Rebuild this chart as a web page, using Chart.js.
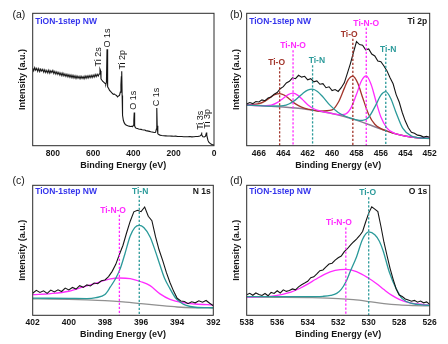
<!DOCTYPE html>
<html>
<head>
<meta charset="utf-8">
<script src="https://cdn.jsdelivr.net/npm/chart.js@4.4.1/dist/chart.umd.min.js"></script>
<style>
  html, body { margin: 0; padding: 0; background: #fff; }
  #sheet { position: relative; width: 448px; height: 344px; overflow: hidden; }
  .panel { position: absolute; width: 224px; height: 172px; }
  canvas { display: block; }
</style>
</head>
<body>
<div id="sheet">
  <div class="panel" style="left:0;top:0"><canvas id="panelA" width="224" height="172"></canvas></div>
  <div class="panel" style="left:224px;top:0"><canvas id="panelB" width="224" height="172"></canvas></div>
  <div class="panel" style="left:0;top:172px"><canvas id="panelC" width="224" height="172"></canvas></div>
  <div class="panel" style="left:224px;top:172px"><canvas id="panelD" width="224" height="172"></canvas></div>
</div>
<script>
// ---------- (a) survey spectrum ----------
const surveyEnergy = [900,895,890,885,880,875,870,865,860,855,850,845,840,835,830,825,820,815,810,805,800,795,790,785,780,775,770,765,760,755,750,745,740,735,730,725,720,715,710,705,700,695,690,685,680,675,670,665,660,655,650,645,640,635,630,625,620,615,610,605,600,595,590,585,580,575,570,566,563,561,557,553,549,545,541,537,534,531,529,527,523,519,514,509,504,499,494,489,484,479,474,469,465,462,460,458,456,454,450,446,440,434,428,422,416,410,404,400,398,396,394,390,386,380,374,368,362,356,350,344,338,332,326,320,314,308,302,296,290,286,284,282,279,274,268,260,250,240,230,220,210,200,190,180,170,160,150,140,130,120,110,100,90,80,70,64,62,60,55,48,42,39,37,35,30,25,15,5,0];
const surveyCounts = [58.6,56.6,58.9,57.0,58.4,56.2,58.2,56.0,57.9,56.3,57.7,55.5,57.4,55.2,56.9,55.0,57.1,54.8,56.6,55.3,56.8,54.5,56.1,54.1,55.8,53.8,55.4,53.3,54.9,52.9,54.9,52.7,54.2,52.3,54.0,52.0,53.6,51.7,53.4,51.3,53.2,51.1,52.8,50.8,52.7,51.0,52.4,50.5,52.5,50.8,52.3,50.5,52.6,50.9,52.8,51.1,53.0,51.4,53.2,51.5,53.4,51.8,53.8,52.1,53.9,52.6,54.2,57.8,56.5,50.5,49.6,48.8,48.2,47.6,47.0,46.4,48.0,72.8,60.0,44.5,43.2,42.0,41.0,40.2,39.4,38.8,39.0,38.4,37.9,36.8,37.6,38.0,40.5,46.0,52.0,56.3,38.0,23.0,19.2,17.4,16.0,15.4,15.0,14.8,14.5,14.6,14.4,15.5,19.0,25.0,15.0,13.6,13.2,13.0,12.6,12.4,12.3,12.0,11.9,11.8,11.4,11.2,11.0,10.8,10.5,10.4,10.2,10.0,10.1,12.5,28.5,15.0,9.0,8.4,8.0,7.7,7.5,7.4,7.3,7.3,7.2,7.1,7.2,7.0,6.9,6.9,6.8,6.8,6.8,6.9,6.7,6.8,6.9,7.0,7.3,8.2,10.0,8.0,6.8,6.6,7.2,9.0,10.0,8.0,4.0,2.5,1.2,0.6,0.5];
const surveyTags = ['Ti 2s', 'O 1s', 'Ti 2p', 'O 1s', 'C 1s', 'Ti 3s', 'Ti 3p'];
const surveyTagEnergy = [572, 530, 454, 400, 286, 69, 31];
const surveyTagBase = [59.8, 74.2, 57.5, 27.1, 29.8, 12.0, 12.8];

// ---------- (b) Ti 2p ----------
const ti2pEnergy = [467,466.75,466.5,466.25,466,465.75,465.5,465.25,465,464.75,464.5,464.25,464,463.75,463.5,463.25,463,462.75,462.5,462.25,462,461.75,461.5,461.25,461,460.75,460.5,460.25,460,459.75,459.5,459.25,459,458.75,458.5,458.25,458,457.75,457.5,457.25,457,456.75,456.5,456.25,456,455.75,455.5,455.25,455,454.75,454.5,454.25,454,453.75,453.5,453.25,453,452.75,452.5,452.25,452];
const ti2pCounts = [31.5,32.6,31.8,33.4,33.0,34.6,34.0,36.1,36.8,38.9,40.2,43.0,44.6,47.4,48.6,51.3,50.6,53.2,51.8,52.4,49.8,50.6,48.2,48.9,46.4,46.9,43.8,44.5,41.6,42.4,41.0,43.8,47.5,54.6,62.0,70.4,78.6,76.4,75.9,72.4,73.1,69.2,67.8,64.0,63.4,60.2,56.5,51.4,46.8,38.6,33.0,25.1,18.6,13.5,10.2,9.4,8.0,7.6,6.5,7.1,6.4];
const ti2pBgEnergy = [467,466,465,464,463,462,461,460,459,458,457,456,455,454,453,452];
const ti2pBg = [30.7,30.3,29.8,29.2,28.5,27.4,26.0,24.3,22.0,19.3,16.0,12.5,9.5,7.3,6.0,5.5];
const ti2pTiOEnergy = [467,466,465.5,465,464.7,464.3,463.9,463.5,463,462.5,462,461,460,459.5,459,458.7,458.3,457.9,457.5,457,456.5,456,455.5,455,454,453,452];
const ti2pTiO = [30.8,31.7,33.7,36.9,38.6,39.4,38.1,35.3,31.6,29.1,27.7,26.1,27.0,32.6,43.3,49.5,52.5,47.3,36.4,23.6,16.2,12.9,11.1,9.5,7.3,6.0,5.5];
const ti2pTiNOEnergy = [467,466,465,464.5,464,463.6,463.2,462.8,462.4,462,461.5,461,460,459.5,459,458.5,458,457.6,457.2,456.8,456.4,456,455.5,455,454.5,454,453,452];
const ti2pTiNO = [30.7,30.3,30.7,32.5,35.9,38.6,39.7,38.0,34.6,31.0,27.9,26.3,24.3,23.4,23.6,27.8,38.8,48.9,52.7,46.2,33.4,21.6,13.3,9.9,8.3,7.3,6.0,5.5];
const ti2pTiNEnergy = [467,466,465,464,463.5,463,462.4,462,461.6,461.2,460.8,460.2,459.5,459,458.5,458,457.5,457,456.4,456,455.6,455.2,454.8,454.2,453.5,453,452];
const ti2pTiN = [30.7,30.3,29.9,30.2,31.7,34.6,39.5,42.0,42.7,40.9,37.3,30.8,25.1,22.6,20.9,19.5,19.1,21.5,31.0,38.2,40.8,35.8,26.1,13.1,7.3,6.1,5.5];
const ti2pPeakNames = ['Ti-O', 'Ti-N-O', 'Ti-N', 'Ti-O', 'Ti-N-O', 'Ti-N'];
const ti2pPeakCentres = [464.3, 463.2, 461.6, 458.3, 457.2, 455.6];
const ti2pPeakLabelLevel = [62.7, 75.5, 64.2, 84.1, 92.4, 72.8];

// ---------- (c) N 1s ----------
const n1sEnergy = [402,401.8,401.6,401.4,401.2,401,400.8,400.6,400.4,400.2,400,399.8,399.6,399.4,399.2,399,398.8,398.6,398.4,398.2,398,397.8,397.6,397.4,397.2,397,396.8,396.6,396.4,396.2,396,395.8,395.6,395.4,395.2,395,394.8,394.6,394.4,394.2,394,393.8,393.6,393.4,393.2,393,392.8,392.6,392.4,392.2,392];
const n1sCounts = [17.0,19.2,17.6,18.8,16.9,19.4,18.0,19.6,18.3,20.9,19.5,21.4,20.2,22.8,21.5,23.4,22.6,24.8,24.3,26.6,27.2,29.8,33.8,39.2,46.8,53.9,63.5,72.4,79.6,80.8,79.7,83.3,76.2,72.8,60.5,50.2,42.1,33.0,25.2,18.6,13.1,11.0,10.6,8.9,10.4,9.6,11.2,10.1,11.4,9.3,7.4];
const n1sBgEnergy = [402,401,400,399,398,397,396,395,394,393,392];
const n1sBg = [12.6,12.5,12.3,11.9,11.3,10.3,9.0,7.6,6.4,5.8,5.6];
const n1sTiNEnergy = [402,400,399,398.5,398,397.7,397.4,397.15,396.9,396.6,396.35,396.1,395.85,395.5,395.2,394.95,394.7,394.4,394.1,393.85,393.5,393,392];
const n1sTiN = [13.2,13.0,12.9,13.6,16.0,21.8,28.5,36.0,47.0,61.0,67.5,69.2,67.5,60.3,49.0,38.5,28.5,20.5,13.5,10.3,7.6,6.2,5.8];
const n1sTiNOEnergy = [402,401,400,399.2,398.3,397.7,397.2,396.6,396,395.5,394.95,394.4,393.7,393,392];
const n1sTiNO = [15.9,16.7,18.5,21.8,25.6,28.0,28.7,28.2,25.8,22.8,16.5,12.3,9.7,8.7,7.9];
const n1sPeakNames = ['Ti-N-O', 'Ti-N'];
const n1sPeakCentres = [397.2, 396.1];
const n1sPeakLabelLevel = [80.8, 95.4];

// ---------- (d) O 1s ----------
const o1sEnergy = [538,537.8,537.6,537.4,537.2,537,536.8,536.6,536.4,536.2,536,535.8,535.6,535.4,535.2,535,534.8,534.6,534.4,534.2,534,533.8,533.6,533.4,533.2,533,532.8,532.6,532.4,532.2,532,531.8,531.6,531.4,531.2,531,530.8,530.6,530.4,530.2,530,529.8,529.6,529.4,529.2,529,528.8,528.6,528.4,528.2,528,527.8,527.6,527.4,527.2,527,526.8,526.6,526.4,526.2,526];
const o1sCounts = [15.8,16.9,15.4,17.2,16.0,15.3,16.8,15.0,17.6,16.8,18.9,17.2,19.6,18.4,19.0,20.3,19.6,21.9,23.5,24.8,26.2,28.9,29.6,31.8,34.3,34.9,37.2,39.4,40.1,42.5,44.3,45.6,48.9,51.2,53.9,56.4,58.6,61.2,64.5,71.8,78.6,83.5,81.7,79.8,68.5,56.2,46.0,36.1,27.9,20.3,15.6,14.4,12.6,11.7,10.8,11.5,10.1,11.0,9.6,10.3,8.4];
const o1sBgEnergy = [538,536,534,532,531,530,529,528,527,526];
const o1sBg = [14.1,13.9,13.6,12.9,12.0,10.6,9.0,8.0,7.5,7.2];
const o1sTiOEnergy = [538,536,534,533,532.5,532.1,531.8,531.5,531.2,530.8,530.4,530,529.6,529.3,529.05,528.65,528.2,527.8,527.1,526.5,526];
const o1sTiO = [14.3,14.3,14.3,14.6,15.3,16.9,20.0,25.6,34.0,44.9,58.5,64.1,62.0,57.0,49.5,33.3,20.5,12.8,9.0,8.0,7.6];
const o1sTiNOEnergy = [538,537,536.2,535.1,534.5,534,533.5,532.9,532.2,531.5,530.8,530,529.5,529,528.5,528,527.3,526.8,526];
const o1sTiNO = [14.0,14.3,15.0,17.9,20.8,24.0,27.5,31.5,34.5,35.4,33.6,28.5,24.5,19.8,15.5,12.3,9.6,8.7,7.8];
const o1sPeakNames = ['Ti-N-O', 'Ti-O'];
const o1sPeakCentres = [531.5, 530.0];
const o1sPeakLabelLevel = [71.0, 94.3];

// ---------- styling ----------
const FONT = '"Liberation Sans", Arial, Helvetica, sans-serif';
const INK = '#161616';
const FRAME = '#2a2a2a';
const SAMPLE_BLUE = '#3434ec';
const TEAL = '#2b9a9a';
const MAGENTA = '#ff2bff';
const BROWN = '#a2352b';
const GREY = '#909090';
const MAUVE = '#8c7d93';

function trace(xs, ys, color, width, smooth) {
  return {
    data: xs.map((e, i) => ({ x: e, y: ys[i] })),
    showLine: true,
    borderColor: color,
    borderWidth: width,
    pointRadius: 0,
    fill: false,
    tension: 0,
    cubicInterpolationMode: smooth ? 'monotone' : 'default'
  };
}

function markers(names, centres, levels, colors, textShift) {
  return names.map((n, i) => ({
    text: n, at: centres[i], level: levels[i], color: colors[i],
    textAt: centres[i] + (textShift ? textShift[i] : 0)
  }));
}

// frame, panel captions, dashed peak markers and axis titles
const decor = {
  id: 'decor',
  afterDatasetsDraw(chart, args, o) {
    const { ctx, chartArea: a, scales: { x, y } } = chart;
    ctx.save();

    (o.markers || []).forEach(m => {
      const px = x.getPixelForValue(m.at);
      const ly = y.getPixelForValue(m.level);
      ctx.strokeStyle = m.color;
      ctx.lineWidth = 1.3;
      ctx.setLineDash([2.2, 1.8]);
      ctx.beginPath();
      ctx.moveTo(px, ly + 4.5);
      ctx.lineTo(px, a.bottom);
      ctx.stroke();
      ctx.setLineDash([]);
      ctx.fillStyle = m.color;
      ctx.font = `bold 8.5px ${FONT}`;
      ctx.textAlign = 'center';
      ctx.textBaseline = 'middle';
      ctx.fillText(m.text, x.getPixelForValue(m.textAt), ly);
    });

    (o.peakTags || []).forEach(t => {
      ctx.save();
      ctx.translate(x.getPixelForValue(t.at), y.getPixelForValue(t.base));
      ctx.rotate(-Math.PI / 2);
      ctx.fillStyle = INK;
      ctx.font = `9px ${FONT}`;
      ctx.textAlign = 'left';
      ctx.textBaseline = 'middle';
      ctx.fillText(t.text, 0, 0);
      ctx.restore();
    });

    // frame
    ctx.strokeStyle = FRAME;
    ctx.lineWidth = 1;
    ctx.strokeRect(a.left, a.top, a.right - a.left, a.bottom - a.top);

    // captions
    ctx.textBaseline = 'middle';
    ctx.fillStyle = SAMPLE_BLUE;
    ctx.font = `bold 8.5px ${FONT}`;
    ctx.textAlign = 'left';
    ctx.fillText('TiON-1step NW', a.left + 2.5, a.top + o.captionDrop);
    if (o.region) {
      ctx.fillStyle = INK;
      ctx.textAlign = 'right';
      ctx.fillText(o.region, a.right - 2.5, a.top + o.captionDrop);
    }
    ctx.fillStyle = INK;
    ctx.font = `10.5px ${FONT}`;
    ctx.textAlign = 'left';
    ctx.fillText(o.letter, o.letterX, o.letterY);

    // axis titles
    ctx.font = `bold 9px ${FONT}`;
    ctx.textAlign = 'center';
    ctx.fillText('Binding Energy (eV)', (a.left + a.right) / 2, a.bottom + o.titleDrop);
    ctx.save();
    ctx.translate(a.left - 10.5, (a.top + a.bottom) / 2);
    ctx.rotate(-Math.PI / 2);
    ctx.fillText('Intensity (a.u.)', 0, 0);
    ctx.restore();

    ctx.restore();
  }
};

function makePanel(id, cfg) {
  const W = 224, H = 172;
  return new Chart(document.getElementById(id), {
    type: 'scatter',
    data: { datasets: cfg.datasets },
    options: {
      responsive: false,
      animation: false,
      events: [],
      layout: { padding: { left: cfg.area.left, top: cfg.area.top, right: W - cfg.area.right, bottom: 0 } },
      plugins: {
        legend: { display: false },
        tooltip: { enabled: false },
        decor: cfg.decor
      },
      scales: {
        x: {
          type: 'linear',
          reverse: true,
          min: cfg.xMin,
          max: cfg.xMax,
          grid: { display: false, drawTicks: false },
          border: { display: false },
          ticks: {
            stepSize: cfg.step,
            includeBounds: false,
            autoSkip: false,
            maxRotation: 0,
            padding: cfg.tickPad,
            color: INK,
            font: { family: FONT, size: 8.5, weight: 'bold' }
          },
          afterFit(scale) { scale.height = H - cfg.area.bottom; }
        },
        y: { display: false, min: 0, max: 100 }
      }
    },
    plugins: [decor]
  });
}

Chart.defaults.font.family = FONT;

makePanel('panelA', {
  area: { left: 32.7, top: 13.3, right: 214, bottom: 145.7 },
  xMin: 0, xMax: 900, step: 200, tickPad: 2.5,
  datasets: [trace(surveyEnergy, surveyCounts, INK, 1.1, false)],
  decor: {
    letter: '(a)', letterX: 12.5, letterY: 15, captionDrop: 8.3, titleDrop: 20,
    peakTags: surveyTags.map((t, i) => ({ text: t, at: surveyTagEnergy[i], base: surveyTagBase[i] }))
  }
});

makePanel('panelB', {
  area: { left: 22.7, top: 13.3, right: 205.7, bottom: 145.7 },
  xMin: 452, xMax: 467, step: 2, tickPad: 2.5,
  datasets: [
    trace(ti2pEnergy, ti2pCounts, INK, 1.1, false),
    trace(ti2pTiNEnergy, ti2pTiN, TEAL, 1.3, true),
    trace(ti2pTiNOEnergy, ti2pTiNO, MAGENTA, 1.3, true),
    trace(ti2pTiOEnergy, ti2pTiO, BROWN, 1.3, true),
    trace(ti2pBgEnergy, ti2pBg, MAUVE, 1.5, true)
  ],
  decor: {
    letter: '(b)', letterX: 6, letterY: 15, captionDrop: 8.3, titleDrop: 20, region: 'Ti 2p',
    markers: markers(ti2pPeakNames, ti2pPeakCentres, ti2pPeakLabelLevel,
      [BROWN, MAGENTA, TEAL, BROWN, MAGENTA, TEAL], [0.25, 0, -0.35, 0.3, 0, -0.2])
  }
});

makePanel('panelC', {
  area: { left: 32.7, top: 13.3, right: 213.3, bottom: 143.3 },
  xMin: 392, xMax: 402, step: 2, tickPad: 2.5,
  datasets: [
    trace(n1sEnergy, n1sCounts, INK, 1.1, false),
    trace(n1sTiNEnergy, n1sTiN, TEAL, 1.3, true),
    trace(n1sTiNOEnergy, n1sTiNO, MAGENTA, 1.3, true),
    trace(n1sBgEnergy, n1sBg, GREY, 1.3, true)
  ],
  decor: {
    letter: '(c)', letterX: 12.5, letterY: 9.5, captionDrop: 6.5, titleDrop: 19, region: 'N 1s',
    markers: markers(n1sPeakNames, n1sPeakCentres, n1sPeakLabelLevel, [MAGENTA, TEAL], [0.35, -0.05])
  }
});

makePanel('panelD', {
  area: { left: 22.7, top: 13.3, right: 205.7, bottom: 143.3 },
  xMin: 526, xMax: 538, step: 2, tickPad: 2.5,
  datasets: [
    trace(o1sEnergy, o1sCounts, INK, 1.1, false),
    trace(o1sTiOEnergy, o1sTiO, TEAL, 1.3, true),
    trace(o1sTiNOEnergy, o1sTiNO, MAGENTA, 1.3, true),
    trace(o1sBgEnergy, o1sBg, GREY, 1.3, true)
  ],
  decor: {
    letter: '(d)', letterX: 6, letterY: 9.5, captionDrop: 6.5, titleDrop: 19, region: 'O 1s',
    markers: markers(o1sPeakNames, o1sPeakCentres, o1sPeakLabelLevel, [MAGENTA, TEAL], [0.45, 0.07])
  }
});
</script>
</body>
</html>
